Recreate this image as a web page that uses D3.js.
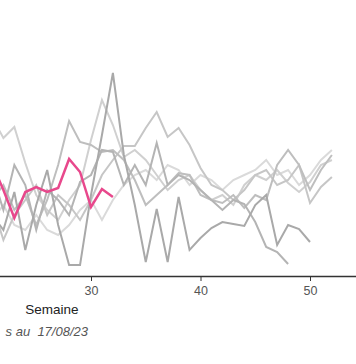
<!DOCTYPE html>
<html><head><meta charset="utf-8">
<script src="https://cdn.jsdelivr.net/npm/d3@7"></script>
<style>html,body{margin:0;padding:0;background:#fff;overflow:hidden}</style>
</head><body>
<script>
// Week axis ticks
const tickWeeks = [30, 40, 50];
// Series (weekly values, first week given by start)
const startPink = 21;
const pink = [11.1, 8.6, 5.8, 8.4, 8.9, 8.4, 8.8, 11.7, 10.4, 6.9, 8.7, 7.9];
const startG1 = 20;
const g1 = [7.6,6.1,4.6,8.4,2.6,7.1,10.6,5.1,1.1,1.1,8.1,14.1,20.3,12.1,7.1,1.4,6.7,1.4,7.9,2.6,3.8,4.8,5.4,5.2,5.0,7.1,8.1,3.1,5.1,4.7,3.4];
const startG5 = 20;
const g5 = [8.6,10.1,6.6,11.1,9.1,4.6,8.6,7.6,6.1,9.4,10.1,12.6,12.4,9.1,11.1,9.1,13.3,9.1,10.1,9.6,8.6,7.6,6.6,7.6,7.2,5.4,2.9,2.4,1.2];
const startG2 = 20;
const g2 = [16.6,15.8,13.8,14.9,11.3,8.1,6.6,5.6,7.6,9.1,13.6,17.6,15.1,11.9,12.6,11.6,10.1,8.6,9.6,10.1,8.6,7.6,8.1,7.1,9.1,10.1,9.6,10.6,9.3,8.4,9.4,11.1,11.6];
const startG3 = 20;
const g3 = [9.6,7.6,9.1,6.6,8.1,5.1,7.6,11.1,15.5,13.4,13.1,12.4,12.6,11.6,9.6,7.1,8.1,9.1,10.3,10.1,8.1,7.6,7.3,8.1,6.8,8.1,7.6,11.1,12.6,11.1,8.6,10.6,12.1];
const startG4 = 20;
const g4 = [5.6,7.1,3.6,6.1,7.6,9.1,6.1,8.1,7.1,5.6,7.6,10.1,11.6,13.0,13.0,14.8,16.4,13.9,14.8,13.1,10.8,9.1,8.6,7.6,8.6,10.1,10.6,9.1,9.6,11.1,7.3,8.9,9.9];
const startG6 = 20;
const g6 = [4.6,5.6,7.1,5.1,4.6,6.1,4.6,4.1,5.1,6.6,7.6,5.6,7.6,9.1,10.1,10.6,9.6,11.1,10.6,9.1,10.1,9.6,8.6,9.6,10.1,10.6,11.6,10.1,10.6,9.1,10.1,11.6,12.6];

const series = [
  {start: startG6, vals: g6, color: "#dadada", w: 2},
  {start: startG2, vals: g2, color: "#d0d0d0", w: 2},
  {start: startG4, vals: g4, color: "#c6c6c6", w: 2},
  {start: startG3, vals: g3, color: "#bebebe", w: 2},
  {start: startG5, vals: g5, color: "#b4b4b4", w: 2},
  {start: startG1, vals: g1, color: "#a9a9a9", w: 2},
  {start: startPink, vals: pink, color: "#e8488c", w: 2.5}
];

const W = 356, H = 364;
const svg = d3.select("body").append("svg").attr("width", W).attr("height", H)
  .style("font-family", "Liberation Sans, Arial, sans-serif");

const x = d3.scaleLinear().domain([30, 50]).range([91, 310]);
const y = d3.scaleLinear().domain([0, 22]).range([276, 56]);

const line = d3.line().x(d => x(d[0])).y(d => y(d[1]));
series.forEach(s => {
  const pts = s.vals.map((v, i) => [s.start + i, v]);
  svg.append("path").attr("d", line(pts)).attr("fill", "none")
    .attr("stroke", s.color).attr("stroke-width", s.w)
    .attr("stroke-linejoin", "miter").attr("stroke-linecap", "butt");
});

const xAxisScale = x.copy().domain([10, 60]).range([x(10), x(60)]);
const axis = d3.axisBottom(xAxisScale).tickValues(tickWeeks).tickSize(5).tickSizeOuter(0).tickFormat(d3.format("d"));
const g = svg.append("g").attr("transform", "translate(0,276)").call(axis);
g.select(".domain").attr("stroke", "#333").attr("stroke-width", 1.5);
g.selectAll(".tick line").attr("stroke", "#333");
g.selectAll(".tick text").attr("fill", "#555").style("font-size", "12.5px")
  .style("font-family", "Liberation Sans, Arial, sans-serif").attr("dy", "0.85em");

svg.append("text").attr("x", 52).attr("y", 314).attr("text-anchor", "middle")
  .attr("fill", "#222").style("font-size", "13.5px").text("Semaine");

svg.append("text").attr("x", 88).attr("y", 336).attr("text-anchor", "end")
  .attr("fill", "#555").style("font-size", "13px").style("font-style", "italic")
  .style("white-space", "pre").text("s au  17/08/23");
</script>
</body></html>
